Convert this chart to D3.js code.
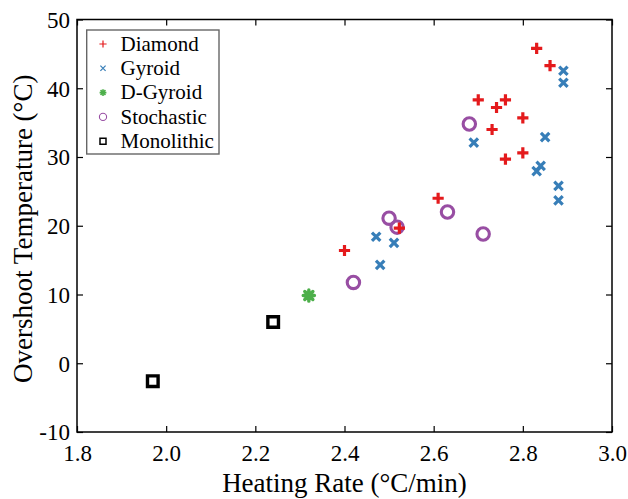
<!DOCTYPE html>
<html>
<head>
<meta charset="utf-8">
<script src="https://cdn.jsdelivr.net/npm/d3@7"></script>
<style>
  html, body { margin: 0; padding: 0; background: #fff; }
  svg { display: block; font-family: "Liberation Serif", "Times New Roman", Times, serif; }
</style>
</head>
<body>
<svg id="chart" width="628" height="499"></svg>
<script>
// Heating rate (°C/min) and overshoot temperature (°C) for each lattice type
const diamondX = [2.40, 2.523, 2.61, 2.70, 2.731, 2.741, 2.761, 2.761, 2.80, 2.80, 2.831, 2.861];
const diamondY = [16.4, 19.65, 24.0, 38.3, 34.0, 37.2, 38.3, 29.7, 35.7, 30.6, 45.8, 43.3];

const gyroidX = [2.471, 2.48, 2.511, 2.69, 2.831, 2.84, 2.85, 2.88, 2.88, 2.891, 2.891];
const gyroidY = [18.4, 14.3, 17.5, 32.1, 27.95, 28.7, 32.9, 25.8, 23.7, 42.55, 40.8];

const dGyroidX = [2.32];
const dGyroidY = [9.85];

const stochasticX = [2.42, 2.50, 2.518, 2.631, 2.68, 2.711];
const stochasticY = [11.75, 21.1, 19.8, 22.0, 34.8, 18.8];

const monolithicX = [1.97, 2.24];
const monolithicY = [-2.6, 6.0];

const legendLabels = ["Diamond", "Gyroid", "D-Gyroid", "Stochastic", "Monolithic"];
const xTicks = [1.8, 2.0, 2.2, 2.4, 2.6, 2.8, 3.0];
const yTicks = [-10, 0, 10, 20, 30, 40, 50];

const colors = {
  Diamond: "#e41a1c",
  Gyroid: "#377eb8",
  "D-Gyroid": "#4daf4a",
  Stochastic: "#984ea3",
  Monolithic: "#000000"
};
const shapes = {
  Diamond: "plus",
  Gyroid: "cross",
  "D-Gyroid": "star",
  Stochastic: "circle",
  Monolithic: "square"
};

const svg = d3.select("#chart");
const plotLeft = 77, plotRight = 612, plotTop = 19.5, plotBottom = 432;

const x = d3.scaleLinear().domain([1.8, 3.0]).range([plotLeft, plotRight]);
const y = d3.scaleLinear().domain([-10, 50]).range([plotBottom, plotTop]);

// marker outline centred on (0,0); s is the half-size
function markerPath(shape, s) {
  const p = d3.path();
  if (shape === "plus") {
    p.moveTo(-s, 0); p.lineTo(s, 0);
    p.moveTo(0, -s); p.lineTo(0, s);
  } else if (shape === "cross") {
    p.moveTo(-s, -s); p.lineTo(s, s);
    p.moveTo(-s, s); p.lineTo(s, -s);
  } else if (shape === "star") {
    const d = s * 0.72;
    p.moveTo(-s, 0); p.lineTo(s, 0);
    p.moveTo(0, -s); p.lineTo(0, s);
    p.moveTo(-d, -d); p.lineTo(d, d);
    p.moveTo(-d, d); p.lineTo(d, -d);
  } else if (shape === "circle") {
    p.arc(0, 0, s, 0, 2 * Math.PI);
  } else if (shape === "square") {
    p.rect(-s, -s, 2 * s, 2 * s);
  }
  return p.toString();
}

const plotStyle = {
  plus: { s: 5.6, w: 3.2 },
  cross: { s: 4.2, w: 3.2 },
  star: { s: 5.6, w: 3.4 },
  circle: { s: 6.2, w: 3.1 },
  square: { s: 5.3, w: 3.4 }
};
const legendStyle = {
  plus: { s: 3.6, w: 1.2 },
  cross: { s: 2.6, w: 1.2 },
  star: { s: 3.4, w: 1.6 },
  circle: { s: 3.6, w: 1.1 },
  square: { s: 3.0, w: 1.5 }
};

// frame
svg.append("rect")
  .attr("x", plotLeft).attr("y", plotTop)
  .attr("width", plotRight - plotLeft).attr("height", plotBottom - plotTop)
  .attr("fill", "none").attr("stroke", "#000").attr("stroke-width", 1.5);

const tickLen = 6;
const fontTick = 23;

const gx = svg.append("g").attr("transform", `translate(0,${plotBottom})`)
  .call(d3.axisBottom(x).tickValues(xTicks).tickFormat(d3.format(".1f"))
    .tickSizeInner(-tickLen).tickSizeOuter(0).tickPadding(13));
const gxTop = svg.append("g").attr("transform", `translate(0,${plotTop})`)
  .call(d3.axisTop(x).tickValues(xTicks).tickFormat("")
    .tickSizeInner(-tickLen).tickSizeOuter(0));
const gy = svg.append("g").attr("transform", `translate(${plotLeft},0)`)
  .call(d3.axisLeft(y).tickValues(yTicks).tickFormat(d => String(d))
    .tickSizeInner(-tickLen).tickSizeOuter(0).tickPadding(7));
const gyRight = svg.append("g").attr("transform", `translate(${plotRight},0)`)
  .call(d3.axisRight(y).tickValues(yTicks).tickFormat("")
    .tickSizeInner(-tickLen).tickSizeOuter(0));

[gx, gxTop, gy, gyRight].forEach(g => {
  g.select(".domain").remove();
  g.selectAll("line").attr("stroke", "#000").attr("stroke-width", 1.2);
  g.selectAll("text")
    .attr("font-family", "'Liberation Serif', 'Times New Roman', serif")
    .attr("font-size", fontTick).attr("fill", "#000");
});
gy.selectAll("text").attr("dy", "0.34em");

// axis titles
svg.append("text")
  .attr("x", (plotLeft + plotRight) / 2).attr("y", 492)
  .attr("text-anchor", "middle").attr("font-size", 27)
  .text("Heating Rate (°C/min)");
svg.append("text")
  .attr("transform", `translate(32,${(plotTop + plotBottom) / 2 + 3}) rotate(-90)`)
  .attr("text-anchor", "middle").attr("font-size", 27)
  .text("Overshoot Temperature (°C)");

// data series, drawn in this order
const series = [
  { name: "Monolithic", xs: monolithicX, ys: monolithicY },
  { name: "D-Gyroid", xs: dGyroidX, ys: dGyroidY },
  { name: "Gyroid", xs: gyroidX, ys: gyroidY },
  { name: "Stochastic", xs: stochasticX, ys: stochasticY },
  { name: "Diamond", xs: diamondX, ys: diamondY }
];

series.forEach(sr => {
  const shape = shapes[sr.name];
  const st = plotStyle[shape];
  const pts = sr.xs.map((v, i) => ({ x: v, y: sr.ys[i] }));
  svg.append("g").selectAll("path").data(pts).join("path")
    .attr("transform", d => `translate(${x(d.x)},${y(d.y)})`)
    .attr("d", markerPath(shape, st.s))
    .attr("fill", "none")
    .attr("stroke", colors[sr.name])
    .attr("stroke-width", st.w)
    .attr("stroke-linecap", shape === "star" ? "round" : "butt");
});

// legend
const lg = svg.append("g");
lg.append("rect")
  .attr("x", 86.7).attr("y", 30).attr("width", 132.3).attr("height", 124)
  .attr("fill", "#fff").attr("stroke", "#666").attr("stroke-width", 1.4);

legendLabels.forEach((name, i) => {
  const base = 50.7 + i * 24.3;
  const shape = shapes[name];
  const st = legendStyle[shape];
  lg.append("path")
    .attr("transform", `translate(103,${base - 6.7})`)
    .attr("d", markerPath(shape, st.s))
    .attr("fill", "none")
    .attr("stroke", colors[name])
    .attr("stroke-width", st.w);
  lg.append("text")
    .attr("x", 120.5).attr("y", base)
    .attr("font-size", 21)
    .text(name);
});
</script>
</body>
</html>
